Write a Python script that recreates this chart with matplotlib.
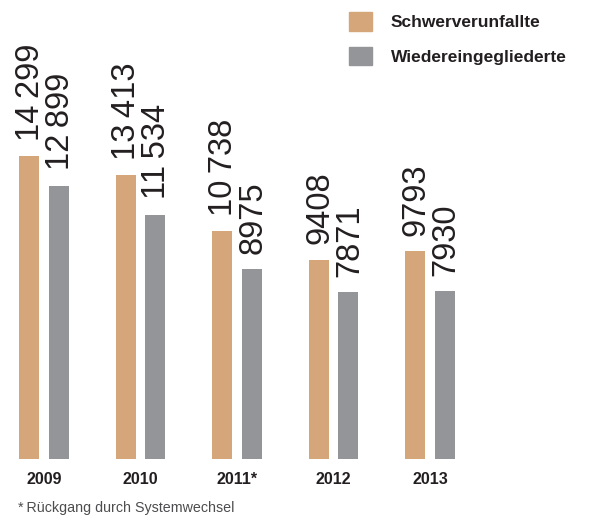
import matplotlib.pyplot as plt
from matplotlib.patches import Patch
import numpy as np

plt.rcParams['font.family'] = ['Liberation Sans', 'DejaVu Sans']

jahre = ["2009", "2010", "2011*", "2012", "2013"]
schwerverunfallte = [14299, 13413, 10738, 9408, 9793]
wiedereingegliederte = [12899, 11534, 8975, 7871, 7930]

orange = "#D4A67A"
grau = "#949599"
text_farbe = "#231f20"


def fmt(v):
    # Tausendertrennung mit schmalem Leerzeichen ab 10 000
    if v >= 10000:
        return f"{v // 1000}\u2009{v % 1000:03d}"
    return str(v)


fig = plt.figure(figsize=(5.92, 5.16), dpi=100)
ax = fig.add_axes([0, 57 / 516, 1, 459 / 516])

x = np.arange(len(jahre))
breite = 0.207
abstand = 0.155

b1 = ax.bar(x - abstand, schwerverunfallte, breite, color=orange)
b2 = ax.bar(x + abstand, wiedereingegliederte, breite, color=grau)

for bars, werte in [(b1, schwerverunfallte), (b2, wiedereingegliederte)]:
    for b, v in zip(bars, werte):
        ax.annotate(fmt(v), (b.get_x() + b.get_width() / 2, v),
                    xytext=(1, 11), textcoords="offset points",
                    rotation=90, ha="center", va="bottom",
                    fontsize=23.5, color=text_farbe)

ax.set_xlim(-44 / 96.5, (592 - 44) / 96.5)
ax.set_ylim(0, 459 / 0.02119)
ax.set_xticks(x)
ax.set_xticklabels(jahre, fontsize=11.5, fontweight="bold", color=text_farbe)
ax.tick_params(axis="x", length=0, pad=9)
ax.set_yticks([])
for s in ax.spines.values():
    s.set_visible(False)

handles = [Patch(color=orange, label="Schwerverunfallte"),
           Patch(color=grau, label="Wiedereingegliederte")]
fig.legend(handles=handles, loc="upper left",
           bbox_to_anchor=(349 / 592, 1 - 12 / 516),
           frameon=False, borderpad=0, borderaxespad=0,
           handlelength=1.3, handleheight=1.3, handletextpad=1.1,
           labelspacing=0.9, prop={"size": 12.5, "weight": "bold"},
           labelcolor=text_farbe)

fig.text(18 / 592, 1 - 508 / 516, "*\u2009Rückgang durch Systemwechsel",
         fontsize=10.3, color="#4d4d4f", va="center", ha="left")

fig.savefig("out.png", dpi=100)
